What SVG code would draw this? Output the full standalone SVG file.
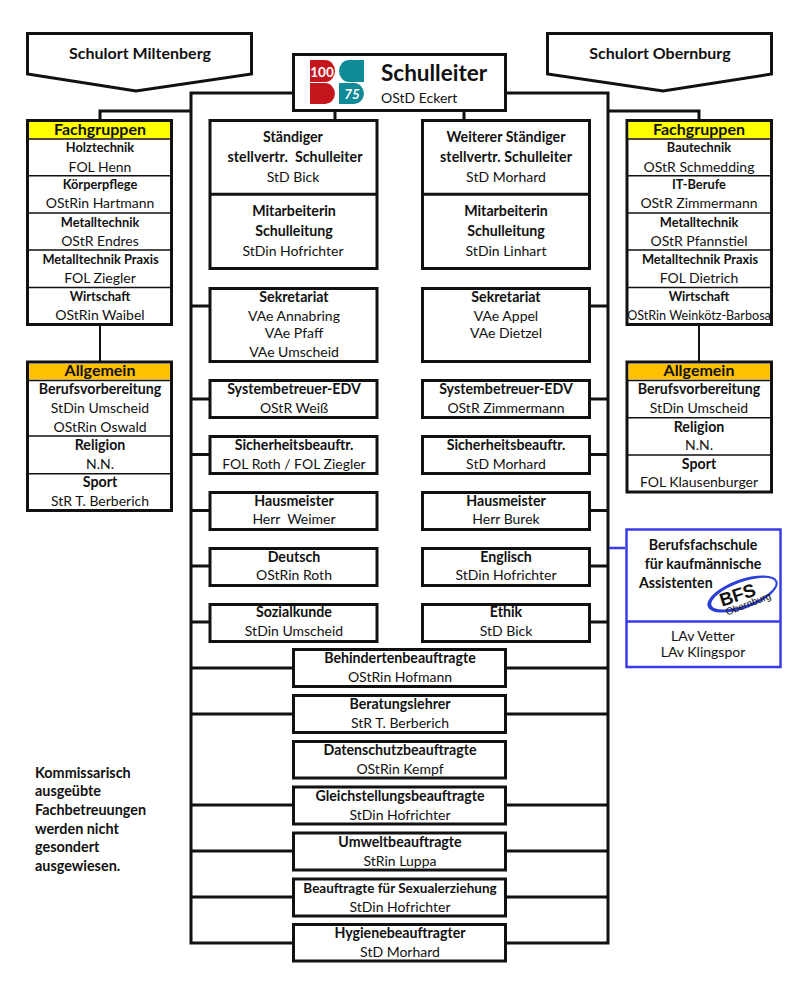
<svg xmlns="http://www.w3.org/2000/svg" width="800" height="1000" viewBox="0 0 800 1000">
<style>
text{font-family:Lato,"Liberation Sans",sans-serif;fill:#111;text-anchor:middle}
.b{font-weight:700;font-size:12.8px}
.h{font-weight:700;font-size:14.200px}
.r{font-size:14px}
.s{font-size:12.6px}
.t{font-weight:700;font-size:16px}
.n{font-weight:700;font-size:14.400px;text-anchor:start}
.box{fill:#fff;stroke:#111;stroke-width:3}
.thin{fill:none;stroke:#111;stroke-width:1.5}
.mid{fill:none;stroke:#111;stroke-width:3}
.blue{fill:#fff;stroke:#3a3ae8;stroke-width:2.5}
</style>
<g id="connectors" fill="none" stroke="#111" stroke-width="3">
<path d="M292 93H191V943H292M507 93H608V943H507"/>
<path d="M191 111H100V119M608 111H699V119"/>
<path d="M335 112V119M464 112V119"/>
<path d="M191 306H209M191 399H209M191 454.500H209M191 510.500H209M191 566H209M191 622H209"/>
<path d="M591 306H608M591 399H608M591 454.500H608M591 510.500H608M591 566H608M591 622H608"/>
<path d="M191 668H292M191 714H292M191 805H292M191 851H292M191 897H292M507 668H608M507 714H608M507 805H608M507 851H608M507 897H608"/>
<path d="M100 326V361M699 326V361" stroke-width="2"/>
<path d="M609 548H625" stroke="#3a3ae8" stroke-width="2.500"/>
</g>
<g id="schulort-miltenberg">
<path class="box" d="M27.500 33.500H251.500V74L136 91L27.500 74Z"/>
<text class="t" x="140" y="59">Schulort Miltenberg</text>
</g>
<g id="schulort-obernburg">
<path class="box" d="M547.500 33.500H771.500V74L663 91L547.500 74Z"/>
<text class="t" x="660" y="59">Schulort Obernburg</text>
</g>
<g id="schulleiter">
<rect class="box" x="293.500" y="54.500" width="212" height="56"/>
<path fill="#c4171d" d="M310 60H325A10 11 0 0 1 335 71A10 11 0 0 1 325 82H310Z"/>
<path fill="#c4171d" d="M310 83H325A10 11 0 0 1 335 94A10 11 0 0 1 325 104H310Z"/>
<path fill="#0f8a96" d="M364 60V82H349A10 11 0 0 1 339 71A10 11 0 0 1 349 60Z"/>
<path fill="#0f8a96" d="M339 83H354A10 11 0 0 1 364 94A10 11 0 0 1 354 104H339Z"/>
<text x="322" y="76.500" style="fill:#fff;font-weight:700;font-size:13.500px">100</text>
<text x="352" y="99" style="fill:#fff;font-weight:700;font-size:13.500px;font-style:italic">75</text>
<text x="381" y="80.500" style="text-anchor:start;font-weight:700;font-size:22.500px">Schulleiter</text>
<text class="r" x="381" y="103" style="text-anchor:start">OStD Eckert</text>
</g>
<g id="fachgruppen-links">
<rect class="box" x="27.500" y="120.500" width="144" height="204"/>
<rect x="29" y="122" width="141" height="16.500" fill="#ffff00"/>
<path class="thin" d="M28 139H171M28 175.700H171M28 213H171M28 250H171M28 287.500H171"/>
<text class="t" x="100" y="134.700">Fachgruppen</text>
<text class="b" x="100" y="152.300">Holztechnik</text><text class="r" x="100" y="171.700">FOL Henn</text>
<text class="b" x="100" y="189">Körperpflege</text><text class="r" x="100" y="208">OStRin Hartmann</text>
<text class="b" x="100" y="226.700">Metalltechnik</text><text class="r" x="100" y="246">OStR Endres</text>
<text class="b" x="100.500" y="264">Metalltechnik Praxis</text><text class="r" x="100" y="283">FOL Ziegler</text>
<text class="b" x="100" y="301">Wirtschaft</text><text class="r" x="100" y="320">OStRin Waibel</text>
</g>
<g id="fachgruppen-rechts">
<rect class="box" x="627" y="120.500" width="144.500" height="204"/>
<rect x="628.500" y="122" width="141.500" height="16.500" fill="#ffff00"/>
<path class="thin" d="M628 139H771M628 175.700H771M628 213H771M628 250H771M628 287.500H771"/>
<text class="t" x="699" y="134.700">Fachgruppen</text>
<text class="b" x="699" y="152.300">Bautechnik</text><text class="r" x="699" y="171.700">OStR Schmedding</text>
<text class="b" x="699" y="189">IT-Berufe</text><text class="r" x="699" y="208">OStR Zimmermann</text>
<text class="b" x="699" y="226.700">Metalltechnik</text><text class="r" x="699" y="246">OStR Pfannstiel</text>
<text class="b" x="700" y="264">Metalltechnik Praxis</text><text class="r" x="699" y="283">FOL Dietrich</text>
<text class="b" x="699" y="301">Wirtschaft</text><text class="s" x="699" y="320">OStRin Weinkötz-Barbosa</text>
</g>
<g id="allgemein-links">
<rect class="box" x="27.500" y="362" width="144" height="148.500"/>
<rect x="29" y="364" width="141" height="15.500" fill="#ffc000"/>
<path class="thin" d="M28 380.500H171M28 436H171M28 473.700H171"/>
<text class="t" x="100" y="376">Allgemein</text>
<text class="h" x="100" y="394.300">Berufsvorbereitung</text><text class="r" x="100" y="412.700">StDin Umscheid</text><text class="r" x="100" y="431.700">OStRin Oswald</text>
<text class="h" x="100" y="450">Religion</text><text class="r" x="100" y="468.700">N.N.</text>
<text class="h" x="100" y="487.300">Sport</text><text class="r" x="100" y="506">StR T. Berberich</text>
</g>
<g id="allgemein-rechts">
<rect class="box" x="627" y="362" width="144.500" height="130"/>
<rect x="628.500" y="364" width="141.500" height="15.500" fill="#ffc000"/>
<path class="thin" d="M628 380.500H771M628 417.700H771M628 455H771"/>
<text class="t" x="699" y="376">Allgemein</text>
<text class="h" x="699" y="394.300">Berufsvorbereitung</text><text class="r" x="699" y="412.700">StDin Umscheid</text>
<text class="h" x="699" y="431.700">Religion</text><text class="r" x="699" y="450">N.N.</text>
<text class="h" x="699" y="468.700">Sport</text><text class="r" x="699" y="487">FOL Klausenburger</text>
</g>
<g id="stv-links">
<rect class="box" x="210" y="120.500" width="167" height="148"/>
<path class="mid" d="M210 194.300H377"/>
<text class="h" x="293" y="141.700">Ständiger</text><text class="h" x="295" y="161.700" xml:space="preserve" textLength="135">stellvertr.  Schulleiter</text><text class="r" x="293" y="182">StD Bick</text>
<text class="h" x="294" y="216">Mitarbeiterin</text><text class="h" x="294" y="236">Schulleitung</text><text class="r" x="293" y="256">StDin Hofrichter</text>
</g>
<g id="stv-rechts">
<rect class="box" x="422.500" y="120.500" width="167" height="148"/>
<path class="mid" d="M422.500 194.300H589.500"/>
<text class="h" x="506" y="141.700">Weiterer Ständiger</text><text class="h" x="506" y="161.700" textLength="132">stellvertr. Schulleiter</text><text class="r" x="506" y="182">StD Morhard</text>
<text class="h" x="506" y="216">Mitarbeiterin</text><text class="h" x="506" y="236">Schulleitung</text><text class="r" x="506" y="256">StDin Linhart</text>
</g>
<g id="sekretariat-links"><rect class="box" x="210" y="288.500" width="167" height="73"/>
<text class="h" x="294" y="301.700">Sekretariat</text><text class="r" x="294" y="320.700">VAe Annabring</text><text class="r" x="294" y="338">VAe Pfaff</text><text class="r" x="294" y="356.700">VAe Umscheid</text></g>
<g id="sekretariat-rechts"><rect class="box" x="422.500" y="288.500" width="167" height="73"/>
<text class="h" x="506" y="301.700">Sekretariat</text><text class="r" x="506" y="320.700">VAe Appel</text><text class="r" x="506" y="338">VAe Dietzel</text></g>
<g id="edv-links"><rect class="box" x="210" y="380.500" width="167" height="37"/><text class="h" x="294" y="394.300">Systembetreuer-EDV</text><text class="r" x="294" y="412.700">OStR Weiß</text></g>
<g id="edv-rechts"><rect class="box" x="422.500" y="380.500" width="167" height="37"/><text class="h" x="506" y="394.300">Systembetreuer-EDV</text><text class="r" x="506" y="412.700">OStR Zimmermann</text></g>
<g id="sicherheit-links"><rect class="box" x="210" y="436.500" width="167" height="37"/><text class="h" x="294" y="450.300">Sicherheitsbeauftr.</text><text class="r" x="294" y="468.700">FOL Roth / FOL Ziegler</text></g>
<g id="sicherheit-rechts"><rect class="box" x="422.500" y="436.500" width="167" height="37"/><text class="h" x="506" y="450.300">Sicherheitsbeauftr.</text><text class="r" x="506" y="468.700">StD Morhard</text></g>
<g id="hausmeister-links"><rect class="box" x="210" y="492.500" width="167" height="37"/><text class="h" x="294" y="506">Hausmeister</text><text class="r" x="294" y="524.300" xml:space="preserve">Herr  Weimer</text></g>
<g id="hausmeister-rechts"><rect class="box" x="422.500" y="492.500" width="167" height="37"/><text class="h" x="506" y="506">Hausmeister</text><text class="r" x="506" y="524.300">Herr Burek</text></g>
<g id="deutsch"><rect class="box" x="210" y="548.500" width="167" height="37"/><text class="h" x="294" y="562">Deutsch</text><text class="r" x="294" y="580.300">OStRin Roth</text></g>
<g id="englisch"><rect class="box" x="422.500" y="548.500" width="167" height="37"/><text class="h" x="506" y="562">Englisch</text><text class="r" x="506" y="580.300">StDin Hofrichter</text></g>
<g id="sozialkunde"><rect class="box" x="210" y="604.500" width="167" height="37"/><text class="h" x="294" y="617.300">Sozialkunde</text><text class="r" x="294" y="636">StDin Umscheid</text></g>
<g id="ethik"><rect class="box" x="422.500" y="604.500" width="167" height="37"/><text class="h" x="506" y="617.300">Ethik</text><text class="r" x="506" y="636">StD Bick</text></g>
<g id="behinderten"><rect class="box" x="293.500" y="649.500" width="212" height="37"/><text class="h" x="400" y="663.300">Behindertenbeauftragte</text><text class="r" x="400" y="681.700">OStRin Hofmann</text></g>
<g id="beratung"><rect class="box" x="293.500" y="695.500" width="212" height="37"/><text class="h" x="400" y="709.300">Beratungslehrer</text><text class="r" x="400" y="727.700">StR T. Berberich</text></g>
<g id="datenschutz"><rect class="box" x="293.500" y="741.500" width="212" height="36.500"/><text class="h" x="400" y="755.300">Datenschutzbeauftragte</text><text class="r" x="400" y="773.700">OStRin Kempf</text></g>
<g id="gleichstellung"><rect class="box" x="293.500" y="787" width="212" height="37"/><text class="h" x="400" y="801">Gleichstellungsbeauftragte</text><text class="r" x="400" y="819.700">StDin Hofrichter</text></g>
<g id="umwelt"><rect class="box" x="293.500" y="833" width="212" height="37"/><text class="h" x="400" y="847">Umweltbeauftragte</text><text class="r" x="400" y="866">StRin Luppa</text></g>
<g id="sexualerziehung"><rect class="box" x="293.500" y="879" width="212" height="37"/><text class="b" x="400" y="893" style="font-size:13.500px">Beauftragte für Sexualerziehung</text><text class="r" x="400" y="911.700">StDin Hofrichter</text></g>
<g id="hygiene"><rect class="box" x="293.500" y="924.500" width="212" height="36.500"/><text class="h" x="400" y="938.300">Hygienebeauftragter</text><text class="r" x="400" y="956.700">StD Morhard</text></g>
<g id="bfs">
<rect class="blue" x="626.500" y="529.500" width="154" height="137.500"/>
<path class="blue" d="M626.500 621.500H780.500"/>
<text class="h" x="703" y="550">Berufsfachschule</text>
<text class="h" x="703" y="569">für kaufmännische</text>
<text class="h" x="639" y="587.700" style="text-anchor:start">Assistenten</text>
<g transform="rotate(-20 742.500 594)">
<ellipse cx="742.500" cy="594" rx="37" ry="14.500" fill="#2a3fd8"/>
<ellipse cx="743.500" cy="594" rx="34" ry="11.500" fill="#fff"/>
</g>
<text x="739.500" y="601" transform="rotate(-18 739.500 601)" style="font-weight:700;font-size:18.500px;font-family:'Liberation Sans',sans-serif">BFS</text>
<text x="749.500" y="607" transform="rotate(-21 749.500 607)" style="font-size:10px;font-family:'Liberation Sans',sans-serif">Obernburg</text>
<text class="r" x="703" y="640.700">LAv Vetter</text>
<text class="r" x="703" y="657">LAv Klingspor</text>
</g>
<g id="hinweis">
<text class="n" x="35" y="778">Kommissarisch</text>
<text class="n" x="35" y="796">ausgeübte</text>
<text class="n" x="35" y="815">Fachbetreuungen</text>
<text class="n" x="35" y="834">werden nicht</text>
<text class="n" x="35" y="852">gesondert</text>
<text class="n" x="35" y="871">ausgewiesen.</text>
</g>
</svg>
